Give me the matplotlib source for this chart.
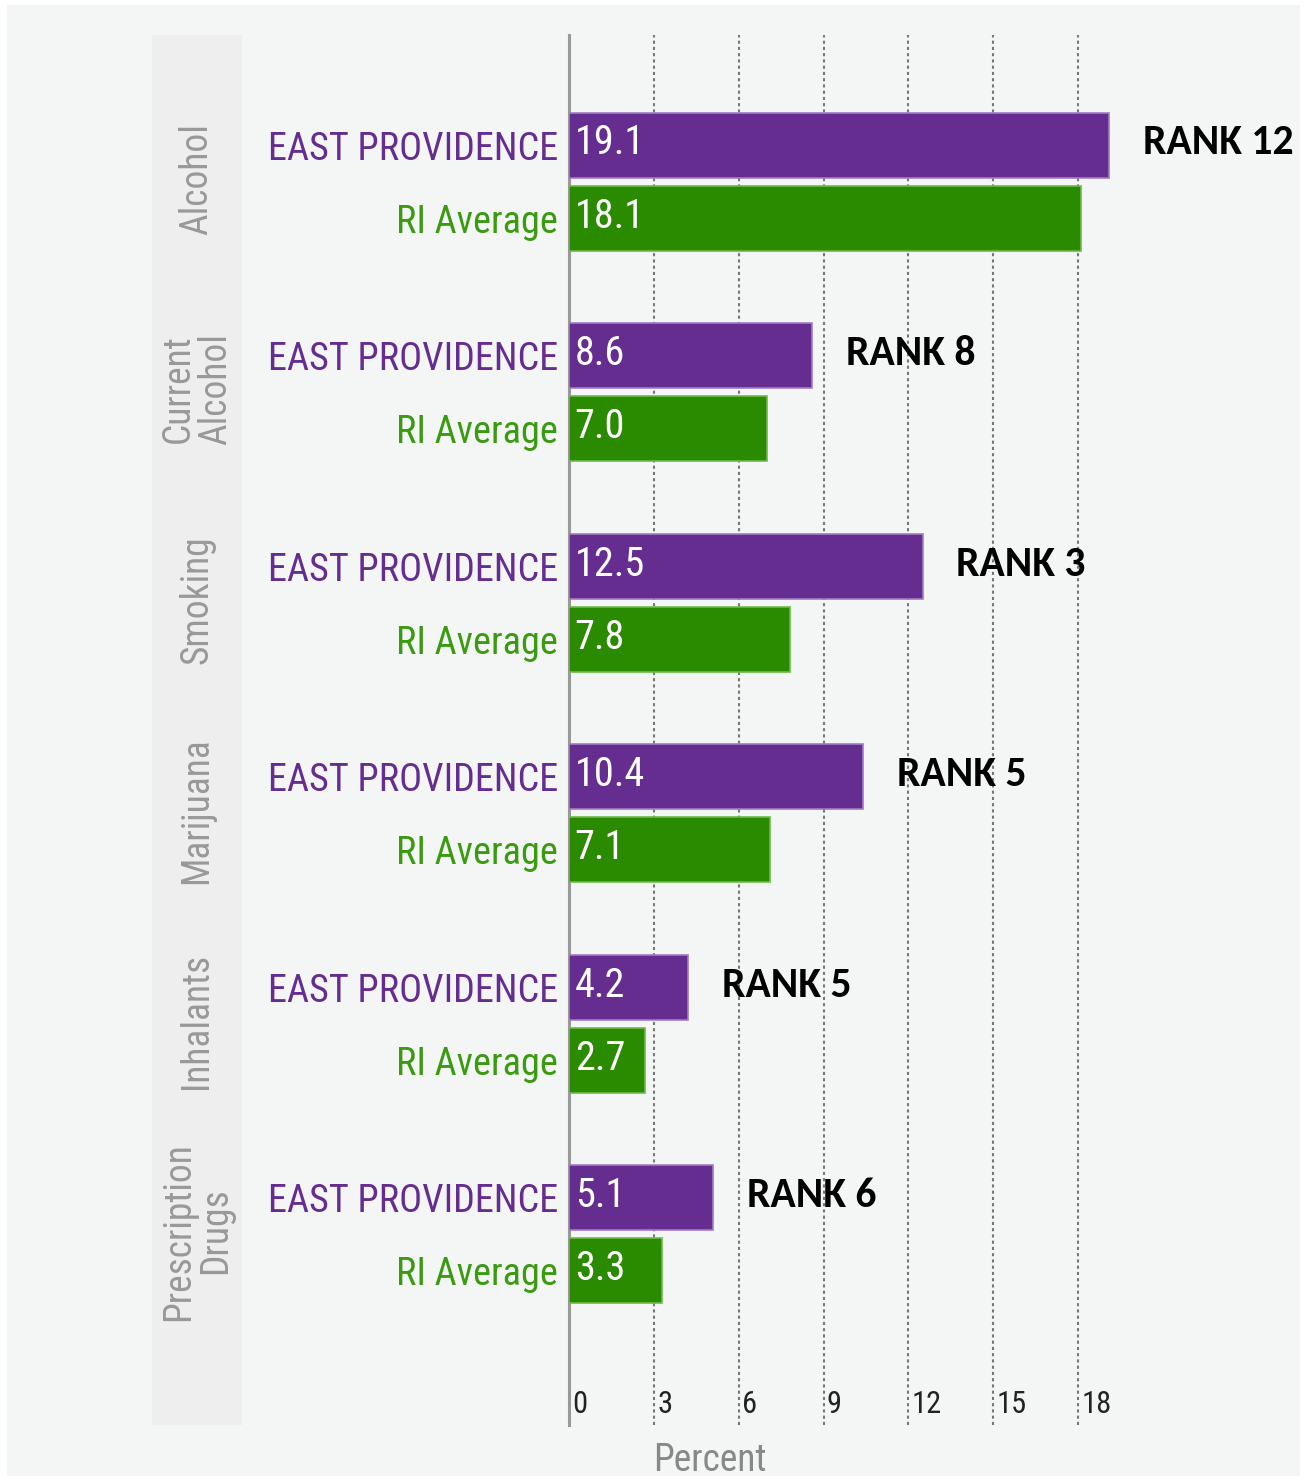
import matplotlib.pyplot as plt
import matplotlib.transforms as mtransforms
from matplotlib.patches import Rectangle

# data
categories = ["Alcohol", "Current\nAlcohol", "Smoking", "Marijuana", "Inhalants", "Prescription\nDrugs"]
east_providence = [19.1, 8.6, 12.5, 10.4, 4.2, 5.1]
ri_average = [18.1, 7.0, 7.8, 7.1, 2.7, 3.3]
ranks = ["RANK 12", "RANK 8", "RANK 3", "RANK 5", "RANK 5", "RANK 6"]
x_ticks = [0, 3, 6, 9, 12, 15, 18]

purple = "#662d91"
green = "#2a8a00"
bg = "#f4f6f6"
narrow = ["Roboto Condensed", "Liberation Sans Narrow", "DejaVu Sans"]
bold_font = ["Carlito", "Lato", "DejaVu Sans"]

W, H = 1307, 1481
fig = plt.figure(figsize=(W / 100, H / 100), dpi=100, facecolor="white")
fig.patches.append(Rectangle((7 / W, 5 / H), 1 - 14 / W, 1 - 10 / H, transform=fig.transFigure,
                             facecolor=bg, edgecolor="none", zorder=-2))
# gray band behind the category names
fig.patches.append(Rectangle((152 / W, 1 - 1425 / H), 90 / W, 1390 / H, transform=fig.transFigure,
                             facecolor="#eeeeee", edgecolor="none", zorder=-1))

left = 569 / W
ax = fig.add_axes([left, 1 - 1425 / H, 1 - 8 / W - left, 1390 / H])
ax.set_facecolor("none")

unit = 28.28  # px per percent
ax.set_xlim(0, (W - 8 - 569) / unit)
ax.set_ylim(6.08, -0.523)

off = 0.347
h = 0.309
ep_y = [i for i in range(len(categories))]
ri_y = [i + off for i in range(len(categories))]

ax.barh(ep_y, east_providence, height=h, color=purple, edgecolor="#a07cc4", linewidth=1.2, zorder=3)
ax.barh(ri_y, ri_average, height=h, color=green, edgecolor="#6dbb4a", linewidth=1.2, zorder=3)

for y, v in zip(ep_y, east_providence):
    ax.text(0.2, y - 0.01, f"{v:.1f}", color="white", fontsize=29, family=narrow, va="center", ha="left", zorder=4)
for y, v in zip(ri_y, ri_average):
    ax.text(0.2, y - 0.01, f"{v:.1f}", color="white", fontsize=29, family=narrow, va="center", ha="left", zorder=4)

for y, v, r in zip(ep_y, east_providence, ranks):
    ax.text(v + 1.2, y - 0.01, r, color="black", fontsize=30, family=bold_font,
            fontweight="bold", va="center", ha="left", zorder=4)

# y labels
ticks = []
labels = []
for i in range(len(categories)):
    ticks += [ep_y[i], ri_y[i]]
    labels += ["EAST PROVIDENCE", "RI Average"]
ax.set_yticks(ticks)
ax.set_yticklabels(labels, fontsize=27.5, family=narrow)
for i, t in enumerate(ax.get_yticklabels()):
    t.set_color(purple if i % 2 == 0 else "#3a9a10")
    t.set_y(ticks[i] - 0.02)
ax.tick_params(axis="y", length=0, pad=8)

# x grid and ticks inside the plot
ax.set_xticks(x_ticks[1:])
ax.tick_params(axis="x", length=0, labelbottom=False)
ax.grid(axis="x", linestyle=(0, (1.5, 1.5)), color="#777777", linewidth=1.5, zorder=1)
trans = mtransforms.blended_transform_factory(ax.transData, ax.transAxes)
for t in x_ticks:
    ax.text(t + 0.12, 0.0145, str(t), transform=trans, fontsize=22, family=narrow,
            color="#222222", ha="left", va="center")
ax.text((710 - 569) / unit, -0.0255, "Percent", transform=trans, fontsize=27, family=narrow,
        color="#888888", ha="center", va="center")

for s in ["top", "right", "bottom"]:
    ax.spines[s].set_visible(False)
ax.spines["left"].set_color("#999999")
ax.spines["left"].set_linewidth(2.2)

# category names, rotated in the gray band
for i, c in enumerate(categories):
    yc = (ep_y[i] + ri_y[i]) / 2
    fy = ax.transData.transform((0, yc))[1] / fig.dpi / (H / 100)
    fig.text(197 / W, fy + 3 / H, c, rotation=90, fontsize=27, family=narrow, color="#999999",
             ha="center", va="center", multialignment="center", linespacing=1.0)

fig.savefig("out.png", dpi=100, facecolor=fig.get_facecolor())
